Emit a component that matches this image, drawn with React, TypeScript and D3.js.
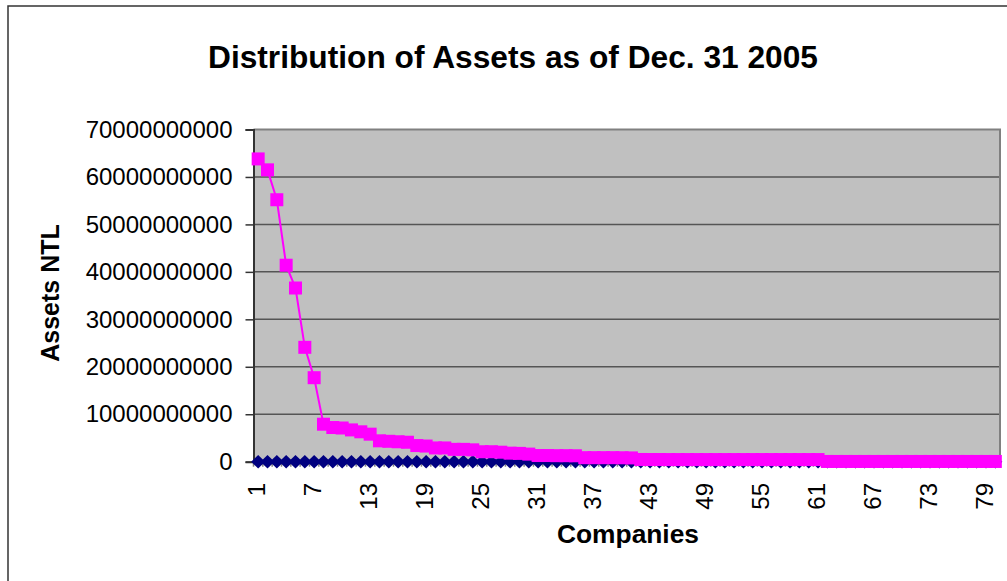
import React, { useEffect, useRef } from "react";
import * as d3 from "d3";

// company ranks along the x axis
const companies = d3.range(1, 81);
const xTickLabels = ["1", "7", "13", "19", "25", "31", "37", "43", "49", "55", "61", "67", "73", "79"];
const yTicks = [0, 10e9, 20e9, 30e9, 40e9, 50e9, 60e9, 70e9];

// assets (NTL)
const assets = [
  63.8e9, 61.5e9, 55.2e9, 41.4e9, 36.6e9, 24.1e9, 17.7e9, 7.9e9, 7.2e9, 7.1e9,
  6.7e9, 6.3e9, 5.8e9, 4.4e9, 4.3e9, 4.2e9, 4.1e9, 3.4e9, 3.3e9, 2.9e9,
  2.9e9, 2.6e9, 2.6e9, 2.5e9, 2.1e9, 2.1e9, 2.0e9, 1.8e9, 1.75e9, 1.6e9,
  1.3e9, 1.3e9, 1.27e9, 1.27e9, 1.25e9, 0.85e9, 0.85e9, 0.85e9, 0.85e9, 0.83e9,
  0.8e9, 0.47e9, 0.46e9, 0.46e9, 0.45e9, 0.45e9, 0.45e9, 0.45e9, 0.45e9, 0.45e9,
  0.45e9, 0.45e9, 0.45e9, 0.45e9, 0.45e9, 0.45e9, 0.45e9, 0.45e9, 0.45e9, 0.45e9,
  0.45e9, 0.05e9, 0.05e9, 0.05e9, 0.05e9, 0.05e9, 0.05e9, 0.05e9, 0.05e9, 0.05e9,
  0.05e9, 0.05e9, 0.05e9, 0.05e9, 0.05e9, 0.05e9, 0.05e9, 0.05e9, 0.05e9, 0.05e9,
];

// second series (navy diamonds), sits on zero all along
const secondSeries = [
  0, 0, 0, 0, 0, 0, 0, 0, 0, 0, 0, 0, 0, 0, 0, 0, 0, 0, 0, 0,
  0, 0, 0, 0, 0, 0, 0, 0, 0, 0, 0, 0, 0, 0, 0, 0, 0, 0, 0, 0,
  0, 0, 0, 0, 0, 0, 0, 0, 0, 0, 0, 0, 0, 0, 0, 0, 0, 0, 0, 0,
  0, 0, 0, 0, 0, 0, 0, 0, 0, 0, 0, 0, 0, 0, 0, 0, 0, 0, 0, 0,
];

export default function App() {
  const ref = useRef<SVGSVGElement>(null);

  useEffect(() => {
    const width = 1007;
    const height = 581;
    const left = 253.5, right = 1000, top = 129.5, bottom = 461.7;
    const font = "'Liberation Sans', Arial, sans-serif";

    const svg = d3.select(ref.current);
    svg.selectAll("*").remove();

    svg.append("rect").attr("width", width).attr("height", height).attr("fill", "white");
    // chart frame runs off the right and bottom edges
    svg.append("rect")
      .attr("x", 8).attr("y", 6).attr("width", 1100).attr("height", 700)
      .attr("fill", "none").attr("stroke", "#333").attr("stroke-width", 1.5);

    const x = d3.scaleBand<number>().domain(companies).range([left, right]);
    const y = d3.scaleLinear().domain([0, 70e9]).range([bottom, top]);
    const cx = (d: number) => (x(d) as number) + x.bandwidth() / 2;

    svg.append("rect")
      .attr("x", left).attr("y", top).attr("width", right - left).attr("height", bottom - top)
      .attr("fill", "#c0c0c0");

    // gridlines
    svg.append("g").selectAll("line").data(yTicks.slice(1, -1)).enter().append("line")
      .attr("x1", left).attr("x2", right)
      .attr("y1", d => y(d)).attr("y2", d => y(d))
      .attr("stroke", "#555").attr("stroke-width", 1.5);

    // plot border top/right
    svg.append("path")
      .attr("d", `M${left},${top}H${right}V${bottom}`)
      .attr("fill", "none").attr("stroke", "#808080").attr("stroke-width", 2);

    // y axis
    const yAxis = svg.append("g")
      .attr("transform", `translate(${left},0)`)
      .call(d3.axisLeft(y).tickValues(yTicks).tickFormat(d3.format(".0f")).tickSize(8).tickPadding(13));
    yAxis.select(".domain").attr("stroke", "#333").attr("stroke-width", 2);
    yAxis.selectAll(".tick line").attr("stroke", "#333").attr("stroke-width", 1.5);
    yAxis.selectAll("text").attr("font-family", font).attr("font-size", 24).attr("fill", "#000");

    // x axis ticks between categories
    const bounds = companies.map(d => x(d) as number).concat([right]);
    svg.append("g").selectAll("line").data(bounds).enter().append("line")
      .attr("x1", d => d).attr("x2", d => d)
      .attr("y1", bottom).attr("y2", bottom + 5)
      .attr("stroke", "#808080").attr("stroke-width", 1.5);
    svg.append("line")
      .attr("x1", left).attr("x2", right).attr("y1", bottom).attr("y2", bottom)
      .attr("stroke", "#333").attr("stroke-width", 1.5);

    svg.append("g").selectAll("text").data(xTickLabels).enter().append("text")
      .attr("transform", d => `translate(${cx(+d) - 1.5},${483}) rotate(-90)`)
      .attr("text-anchor", "end").attr("dy", "0.35em")
      .attr("font-family", font).attr("font-size", 24)
      .text(d => d);

    // navy series
    const line2 = d3.line<number>().x((_, i) => cx(companies[i])).y(d => y(d));
    svg.append("path").datum(secondSeries)
      .attr("d", line2).attr("fill", "none").attr("stroke", "#000080").attr("stroke-width", 2);
    const diamond = "M0,-6.8L7,0L0,6.8L-7,0Z";
    svg.append("g").selectAll("path").data(secondSeries).enter().append("path")
      .attr("d", diamond)
      .attr("transform", (d, i) => `translate(${cx(companies[i])},${y(d)})`)
      .attr("fill", "#000080");

    // magenta series
    svg.append("path").datum(assets)
      .attr("d", line2).attr("fill", "none").attr("stroke", "#ff00ff").attr("stroke-width", 2);
    svg.append("g").selectAll("rect").data(assets).enter().append("rect")
      .attr("x", (d, i) => cx(companies[i]) - 6.5)
      .attr("y", d => y(d) - 6.5)
      .attr("width", 13).attr("height", 13)
      .attr("fill", "#ff00ff");

    // titles
    svg.append("text")
      .attr("x", 513).attr("y", 68)
      .attr("text-anchor", "middle")
      .attr("font-family", font).attr("font-weight", "bold").attr("font-size", 32)
      .attr("textLength", 610).attr("lengthAdjust", "spacingAndGlyphs")
      .text("Distribution of Assets as of Dec. 31 2005");

    svg.append("text")
      .attr("transform", `translate(${59},${293}) rotate(-90)`)
      .attr("text-anchor", "middle")
      .attr("font-family", font).attr("font-weight", "bold").attr("font-size", 25)
      .text("Assets NTL");

    svg.append("text")
      .attr("x", 628).attr("y", 543)
      .attr("text-anchor", "middle")
      .attr("font-family", font).attr("font-weight", "bold").attr("font-size", 25)
      .attr("textLength", 142).attr("lengthAdjust", "spacingAndGlyphs")
      .text("Companies");
  }, []);

  return (
    <svg ref={ref} width={1007} height={581}
      style={{ position: "absolute", left: 0, top: 0, display: "block" }} />
  );
}
